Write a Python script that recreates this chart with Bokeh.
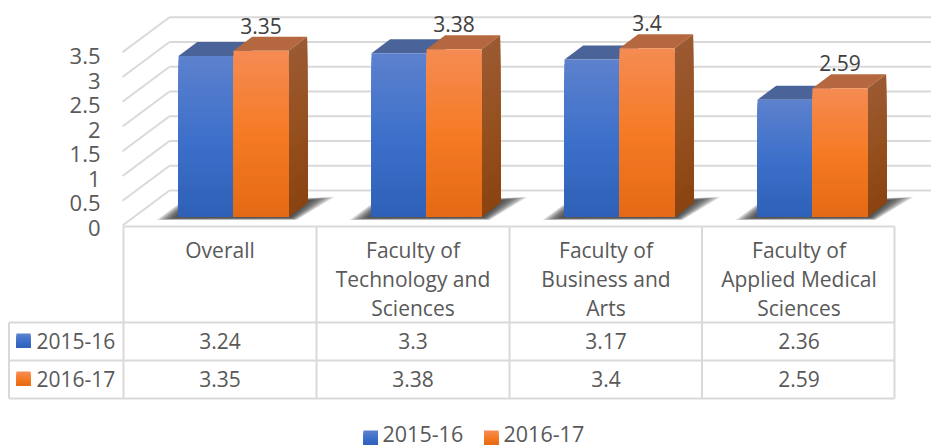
import numpy as np
from bokeh.plotting import figure
from bokeh.models import Range1d
from bokeh.core.properties import value
from bokeh.embed import file_html
from bokeh.resources import INLINE

categories = [["Overall"],
              ["Faculty of", "Technology and", "Sciences"],
              ["Faculty of", "Business and", "Arts"],
              ["Faculty of", "Applied Medical", "Sciences"]]
series_names = ["2015-16", "2016-17"]
v2015 = [3.24, 3.3, 3.17, 2.36]
v2016 = [3.35, 3.38, 3.4, 2.59]
y_ticks = [0, 0.5, 1, 1.5, 2, 2.5, 3, 3.5]
y_labels = ["0", "0.5", "1", "1.5", "2", "2.5", "3", "3.5"]
table_2015 = ["3.24", "3.3", "3.17", "2.36"]
table_2016 = ["3.35", "3.38", "3.4", "2.59"]

# layout (reference pixels)
W, H = 931, 447
PAD = 0
X0, UX = 123.0, 193.0      # category origin, px per category
Y0, UY = 216.0, 49.5       # floor front, px per value unit
def X(px): return (np.asarray(px, float) - X0) / UX
def Y(py): return (Y0 - np.asarray(py, float)) / UY

p = figure(width=W, height=H, output_backend="svg", toolbar_location=None,
           x_range=Range1d(float(X(PAD)), float(X(PAD + W))),
           y_range=Range1d(float(Y(PAD + H)), float(Y(PAD))),
           x_axis_location=None, y_axis_location=None,
           min_border=0, min_border_left=0, min_border_right=0,
           min_border_top=0, min_border_bottom=0,
           outline_line_color=None, background_fill_color="white")
p.grid.visible = False
p.extra_y_ranges = {"ticks": Range1d((227 - (PAD + H)) / 49.0, (227 - PAD) / 49.0)}

FONT = value("Open Sans")
GRID = "#d9d9d9"
TXT = "#595959"
FS = "21px"

# walls
WDX, WDY = 47 / UX, 35 / UY
wall_x = float(X(122))
back_x = wall_x + WDX
right_x = float(X(PAD + W))
ticks = np.array(y_ticks)
p.multi_line([[wall_x, back_x] for _ in ticks],
             [[t - 9 / UY, t - 9 / UY + WDY] for t in ticks], line_color=GRID, line_width=2)
p.multi_line([[back_x, right_x] for _ in ticks],
             [[t - 9 / UY + WDY] * 2 for t in ticks], line_color=GRID, line_width=2)
p.text([float(X(100))] * len(ticks), ticks, text=y_labels, y_range_name="ticks",
       text_font=FONT, text_font_size="22px", text_color=TXT,
       text_align="right", text_baseline="middle")

# gradient helpers
def hex2rgb(h): return np.array([int(h[i:i + 2], 16) for i in (1, 3, 5)], float)
def grad(stops, t):
    a, b, c = [hex2rgb(s) for s in stops]
    rgb = a + (b - a) * t / 0.5 if t < 0.5 else b + (c - b) * (t - 0.5) / 0.5
    return "#%02x%02x%02x" % tuple(int(round(x)) for x in rgb)

BLUE = ("#5c81cd", "#3d70ca", "#2e60b7")
ORANGE = ("#f58b52", "#f57a24", "#e46914")
ORANGE_SIDE = ("#9c5a32", "#95501f", "#8a4310")
BLUE_SIDE = ("#3e5a94", "#2f5596", "#274d85")
TOPS = {"b": "#4a6398", "o": "#b5683f"}
DX, DY = 18.7 / UX, 14 / UY
N = 36

def rect_grad(l, r, b, t, stops, n=N):
    fr = np.arange(n) / n
    tops = t - (t - b) * fr
    p.quad(left=[l] * n, right=[r] * n, bottom=[b] * n, top=tops,
           fill_color=[grad(stops, f) for f in fr], line_color=None)

def side_grad(r, h, stops, n=N):
    fr = np.arange(n) / n
    xs, ys = [], []
    for f in fr:
        t = h * (1 - f)
        xs.append([r, r + DX, r + DX, r])
        ys.append([0, DY, t + DY, t])
    p.patches(xs, ys, fill_color=[grad(stops, f) for f in fr], line_color=None)

def bar(l, r, h, stops, side, top):
    p.patch([l, l + DX, r + DX, r], [h, h + DY, h + DY, h], fill_color=top, line_color=None)
    side_grad(r, h, side)
    rect_grad(l, r, 0, h, stops)

BAR_L, BAR_W = 55 / UX, 55 / UX
for i, (a, b) in enumerate(zip(v2015, v2016)):
    l = i + BAR_L
    m = l + BAR_W
    r = m + BAR_W
    # soft shadow on the floor
    layers = 12
    for k in range(layers):
        f = k / (layers - 1)
        xs = [l + (-22 + 19 * f) / UX, l + (2 + 3 * f) / UX, r + (46 - 24 * f) / UX, r + (8 - 6 * f) / UX]
        ys = [(-3.5 + 2 * f) / UY, (14 - 6 * f) / UY, (19.5 - 3 * f) / UY, (-3.5 + 2.5 * f) / UY]
        p.patch(xs, ys, fill_color="#303030", fill_alpha=0.13, line_color=None)
    bar(l, m, a, BLUE, BLUE_SIDE, TOPS["b"])
    bar(m, r, b, ORANGE, ORANGE_SIDE, TOPS["o"])

# data labels
lab_x = [i + BAR_L + BAR_W + 27.5 / UX for i in range(4)]
lab_y = [v + 25 / UY for v in v2016]
p.text(lab_x, lab_y, text=[str(v) for v in v2016], text_font=FONT, text_font_size=FS,
       text_color="#404040", text_align="center", text_baseline="middle")

# data table
col_px = [123, 316, 509, 701.5, 894]
row_px = [226, 322, 360, 398]
vx = [[float(X(c)), float(X(c))] for c in col_px] + [[float(X(8.5))] * 2]
vy = [[float(Y(row_px[0])), float(Y(row_px[-1]))] for _ in col_px] + [[float(Y(row_px[1])), float(Y(row_px[-1]))]]
hx = [[float(X(123)), float(X(894))]] + [[float(X(8.5)), float(X(894))] for _ in row_px[1:]]
hy = [[float(Y(r))] * 2 for r in row_px]
p.multi_line(vx + hx, vy + hy, line_color=GRID, line_width=2)

cx, cy, ct = [], [], []
for i, lines in enumerate(categories):
    for j, s in enumerate(lines):
        cx.append(i + 0.5)
        cy.append(float(Y(249 + 29 * j)))
        ct.append(s)
p.text(cx, cy, text=ct, text_font=FONT, text_font_size=FS, text_color=TXT,
       text_align="center", text_baseline="middle")

for row_y, vals in ((340, table_2015), (378, table_2016)):
    p.text([i + 0.5 for i in range(4)], [float(Y(row_y))] * 4, text=vals, text_font=FONT,
           text_font_size=FS, text_color=TXT, text_align="center", text_baseline="middle")

for row_y, name, st in ((340, series_names[0], BLUE), (378, series_names[1], ORANGE)):
    rect_grad(float(X(16)), float(X(30)), float(Y(row_y + 7)), float(Y(row_y - 7)), st, 14)
    p.text([float(X(36))], [float(Y(row_y))], text=[name], text_font=FONT, text_font_size=FS,
           text_color=TXT, text_align="left", text_baseline="middle")

# legend
for sx, tx, name, st in ((363, 382, series_names[0], BLUE), (483.5, 503, series_names[1], ORANGE)):
    rect_grad(float(X(sx)), float(X(sx + 14.5)), float(Y(444)), float(Y(430)), st, 14)
    p.text([float(X(tx))], [float(Y(433.5))], text=[name], text_font=FONT, text_font_size="21.5px",
           text_color=TXT, text_align="left", text_baseline="middle")

open("out.html", "w").write(file_html(p, INLINE))
